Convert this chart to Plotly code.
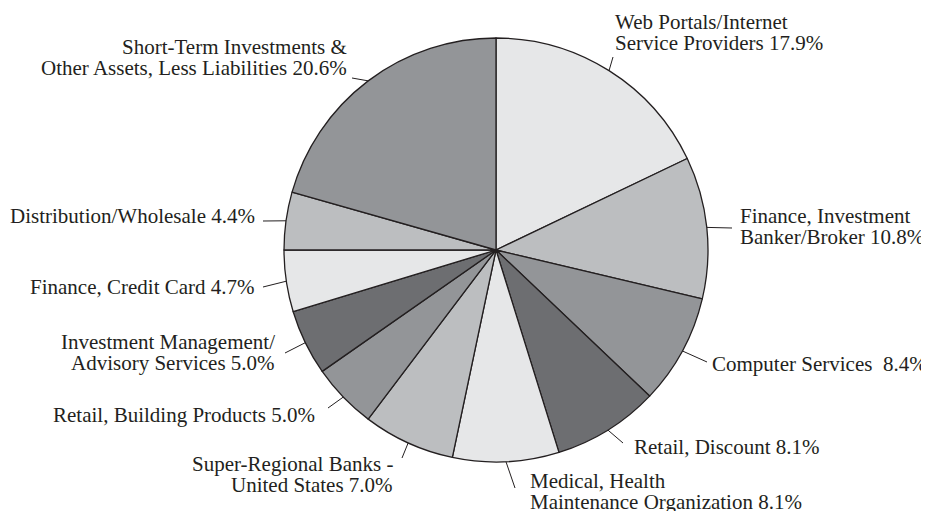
import math
import plotly.graph_objects as go

# page offset (browser body margin) and figure size
OX, OY = 8, 8
W, H = 921, 503

# ---- data ----
categories = [
    "Web Portals/Internet Service Providers",
    "Finance, Investment Banker/Broker",
    "Computer Services",
    "Retail, Discount",
    "Medical, Health Maintenance Organization",
    "Super-Regional Banks - United States",
    "Retail, Building Products",
    "Investment Management/Advisory Services",
    "Finance, Credit Card",
    "Distribution/Wholesale",
    "Short-Term Investments & Other Assets, Less Liabilities",
]
values = [17.9, 10.8, 8.4, 8.1, 8.1, 7.0, 5.0, 5.0, 4.7, 4.4, 20.6]
label_lines = [
    ["Web Portals/Internet", "Service Providers 17.9%"],
    ["Finance, Investment", "Banker/Broker 10.8%"],
    ["Computer Services\u00a0 8.4%"],
    ["Retail, Discount 8.1%"],
    ["Medical, Health", "Maintenance Organization 8.1%"],
    ["Super-Regional Banks -", "United States 7.0%"],
    ["Retail, Building Products 5.0%"],
    ["Investment Management/", "Advisory Services 5.0%"],
    ["Finance, Credit Card 4.7%"],
    ["Distribution/Wholesale 4.4%"],
    ["Short-Term Investments &", "Other Assets, Less Liabilities 20.6%"],
]

# ---- style / layout ----
L1, L2, L3, L4 = "#e6e7e8", "#bcbec0", "#939598", "#6d6e71"
colors = [L1, L2, L3, L4, L1, L2, L3, L4, L1, L2, L3]
INK = "#231f20"
FONT = "Liberation Serif"
FS = 21
PITCH = 21

cx, cy, R = 496, 250, 212  # pixel geometry of pie (page pixels)

# label anchor (page px) : (x, y of first line, xanchor) and leader end point
label_pos = [
    (613, 22, "left"),
    (738, 216, "left"),
    (710, 364, "left"),
    (632, 447, "left"),
    (528, 481, "left"),
    (395, 464, "right"),
    (317, 415, "right"),
    (277, 342, "right"),
    (257, 287, "right"),
    (257, 216, "right"),
    (349, 47, "right"),
]
leader_end = [
    (613, 57), (732, 228), (707, 362), (623, 443), (515, 488),
    (402, 458), (328, 408), (285, 353), (263, 287), (263, 221), (352, 78),
]

def px2paper(x, y):
    return (x - OX) / W, 1 - (y - OY) / H

fig = go.Figure(
    go.Pie(
        labels=categories,
        values=values,
        sort=False,
        direction="clockwise",
        rotation=0,
        textinfo="none",
        hoverinfo="label+percent",
        marker=dict(colors=colors, line=dict(color=INK, width=1.3)),
        domain=dict(
            x=[(cx - R - OX) / W, (cx + R - OX) / W],
            y=[1 - (cy + R - OY) / H, 1 - (cy - R - OY) / H],
        ),
        showlegend=False,
    )
)

total = sum(values)
cum = 0.0
shapes = []
annotations = []
for i, v in enumerate(values):
    mid = (cum + v / 2) / total * 2 * math.pi
    cum += v
    sx = cx + R * math.sin(mid)
    sy = cy - R * math.cos(mid)
    ex, ey = leader_end[i]
    x0, y0 = px2paper(sx, sy)
    x1, y1 = px2paper(ex, ey)
    shapes.append(dict(type="line", xref="paper", yref="paper",
                       x0=x0, y0=y0, x1=x1, y1=y1,
                       line=dict(color=INK, width=1)))
    lx, ly, xa = label_pos[i]
    for j, line in enumerate(label_lines[i]):
        px_, py_ = px2paper(lx, ly + j * PITCH)
        annotations.append(dict(
            x=px_, y=py_, xref="paper", yref="paper",
            text=line, showarrow=False, xanchor=xa, yanchor="middle",
            align=xa, font=dict(family=FONT, size=FS, color=INK),
        ))

fig.update_layout(
    width=W, height=H,
    margin=dict(l=0, r=0, t=0, b=0),
    paper_bgcolor="white",
    plot_bgcolor="white",
    shapes=shapes,
    annotations=annotations,
)

fig.write_html("out.html")
